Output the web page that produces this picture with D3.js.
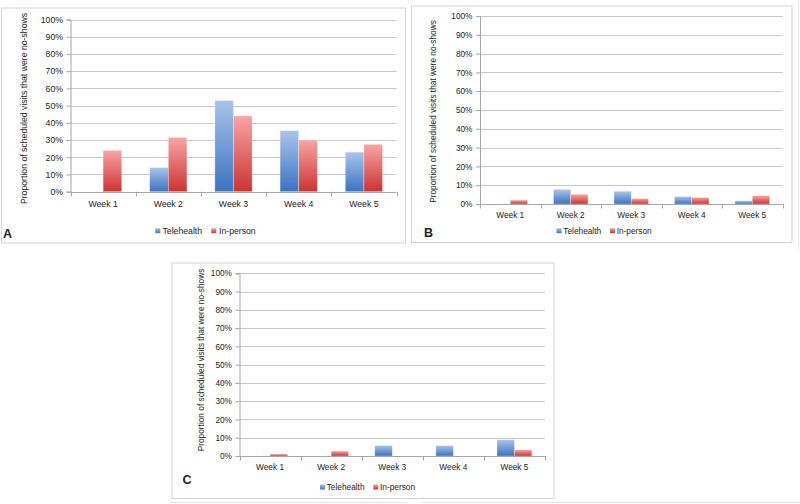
<!DOCTYPE html>
<html>
<head>
<meta charset="utf-8">
<script src="https://cdn.jsdelivr.net/npm/d3@7/dist/d3.min.js"></script>
<style>
  html, body { margin: 0; padding: 0; background: #ffffff; }
  svg { display: block; }
  text { font-family: "Liberation Sans", Arial, sans-serif; fill: #222222; }
</style>
</head>
<body>
<svg id="chart" width="800" height="504"></svg>
<script>
// ---- Data ----
const weeks = ["Week 1", "Week 2", "Week 3", "Week 4", "Week 5"];
const seriesNames = ["Telehealth", "In-person"];
const yTickValues = [0, 0.1, 0.2, 0.3, 0.4, 0.5, 0.6, 0.7, 0.8, 0.9, 1.0];
const yAxisTitle = "Proportion of scheduled visits that were no-shows";

const telehealthA = [0, 0.14, 0.53, 0.355, 0.23];
const inPersonA   = [0.24, 0.315, 0.44, 0.30, 0.275];
const telehealthB = [0, 0.078, 0.068, 0.040, 0.017];
const inPersonB   = [0.021, 0.052, 0.029, 0.035, 0.044];
const telehealthC = [0, 0, 0.058, 0.057, 0.089];
const inPersonC   = [0.011, 0.027, 0, 0, 0.034];

// ---- Layout (positions only) ----
const panels = [
  { label: "A", tele: telehealthA, inp: inPersonA,
    frame: [1.5, 8, 404, 235], plot: [70.5, 396.5, 19.5, 191.7], fs: 8.7,
    titleX: 26.5, titleY: 108.5, catY: 207, labelPos: [3, 237.5],
    legendY: 230.7, legendX: [155.3, 162.5, 211.3, 219] },
  { label: "B", tele: telehealthB, inp: inPersonB,
    frame: [411.5, 6, 380.5, 236.5], plot: [480, 782.5, 16, 204], fs: 8.3,
    titleX: 436, titleY: 111.5, catY: 218, labelPos: [424, 237],
    legendY: 230.7, legendX: [556.5, 563.3, 610, 616.7] },
  { label: "C", tele: telehealthC, inp: inPersonC,
    frame: [172, 263, 382, 235.5], plot: [239.5, 545, 273.3, 456], fs: 8.3,
    titleX: 204, titleY: 360, catY: 469.5, labelPos: [182.5, 484],
    legendY: 487, legendX: [320, 326.7, 373.3, 380] }
];

const svg = d3.select("#chart");
const defs = svg.append("defs");
function grad(id, top, bottom) {
  const g = defs.append("linearGradient").attr("id", id)
    .attr("x1", 0).attr("y1", 0).attr("x2", 0).attr("y2", 1);
  g.append("stop").attr("offset", "0%").attr("stop-color", top);
  g.append("stop").attr("offset", "100%").attr("stop-color", bottom);
}
grad("gTele", "#aac4ea", "#3a73c2");
grad("gInp", "#f7a5a5", "#cc3331");
const fills = { "Telehealth": "url(#gTele)", "In-person": "url(#gInp)" };

// faint page edge lines
svg.append("line").attr("x1", 170).attr("x2", 407).attr("y1", 502.5).attr("y2", 502.5)
  .attr("stroke", "#e4e4e4");
svg.append("line").attr("x1", 422).attr("x2", 800).attr("y1", 502.5).attr("y2", 502.5)
  .attr("stroke", "#e4e4e4");
svg.append("line").attr("x1", 798.5).attr("x2", 798.5).attr("y1", 0).attr("y2", 250)
  .attr("stroke", "#e8e8e8");

panels.forEach(p => {
  const g = svg.append("g");
  const [fx, fy, fw, fh] = p.frame;
  g.append("rect").attr("x", fx).attr("y", fy).attr("width", fw).attr("height", fh)
    .attr("fill", "#ffffff").attr("stroke", "#d4d4d4").attr("stroke-width", 1);

  const [x0, x1, yTop, yBot] = p.plot;
  const x = d3.scaleBand().domain(weeks).range([x0, x1]).padding(0);
  const xs = d3.scaleBand().domain(seriesNames).range([0, x.bandwidth()])
    .paddingInner(0).paddingOuter(0.75);
  const y = d3.scaleLinear().domain([0, 1]).range([yBot, yTop]);

  // gridlines
  g.append("g").selectAll("line").data(yTickValues.filter(v => v > 0)).join("line")
    .attr("x1", x0).attr("x2", x1)
    .attr("y1", d => Math.round(y(d)) + 0.5).attr("y2", d => Math.round(y(d)) + 0.5)
    .attr("stroke", "#c6c6c6").attr("stroke-width", 1);

  // y axis
  const yAxis = d3.axisLeft(y).tickValues(yTickValues).tickFormat(d3.format(".0%"))
    .tickSize(4).tickPadding(3.5);
  const ya = g.append("g").attr("transform", `translate(${x0},0)`).call(yAxis);
  ya.select(".domain").attr("stroke", "#a6a6a6");
  ya.selectAll(".tick line").attr("stroke", "#a6a6a6");
  ya.selectAll(".tick text").attr("font-size", p.fs).attr("fill", "#222")
    .attr("font-family", "Liberation Sans, Arial, sans-serif");

  // bars
  const rows = weeks.map((w, i) => ({ week: w, vals: [
    { s: "Telehealth", v: p.tele[i] }, { s: "In-person", v: p.inp[i] } ] }));
  const bars = g.append("g");
  rows.forEach(r => {
    bars.selectAll(null).data(r.vals.filter(d => d.v > 0)).join("rect")
      .attr("x", d => x(r.week) + xs(d.s))
      .attr("width", xs.bandwidth())
      .attr("y", d => y(d.v))
      .attr("height", d => y(0) - y(d.v))
      .attr("fill", d => fills[d.s])
      .attr("stroke", "rgba(255,255,255,0.5)").attr("stroke-width", 0.6);
  });

  // x axis line and category ticks
  g.append("line").attr("x1", x0).attr("x2", x1)
    .attr("y1", Math.round(yBot) + 0.5).attr("y2", Math.round(yBot) + 0.5)
    .attr("stroke", "#a6a6a6");
  const bounds = weeks.map(w => x(w)).concat([x1]);
  g.append("g").selectAll("line").data(bounds).join("line")
    .attr("x1", d => Math.round(d) + 0.5).attr("x2", d => Math.round(d) + 0.5)
    .attr("y1", yBot).attr("y2", yBot + 4.5)
    .attr("stroke", "#a6a6a6");
  g.append("g").selectAll("text").data(weeks).join("text")
    .attr("x", d => x(d) + x.bandwidth() / 2).attr("y", p.catY)
    .attr("text-anchor", "middle").attr("font-size", p.fs).text(d => d);

  // y axis title
  g.append("text").attr("transform", `translate(${p.titleX},${p.titleY}) rotate(-90)`)
    .attr("text-anchor", "middle").attr("font-size", p.fs).text(yAxisTitle);

  // legend
  const lx = p.legendX;
  [[seriesNames[0], lx[0], lx[1]], [seriesNames[1], lx[2], lx[3]]].forEach(([name, sx, tx]) => {
    g.append("rect").attr("x", sx).attr("y", p.legendY - 2.5).attr("width", 5).attr("height", 5)
      .attr("fill", fills[name]);
    g.append("text").attr("x", tx).attr("y", p.legendY + 3).attr("font-size", p.fs).text(name);
  });

  // panel label
  g.append("text").attr("x", p.labelPos[0]).attr("y", p.labelPos[1])
    .attr("font-size", 12.5).attr("font-weight", "bold").attr("fill", "#111").text(p.label);
});
</script>
</body>
</html>
